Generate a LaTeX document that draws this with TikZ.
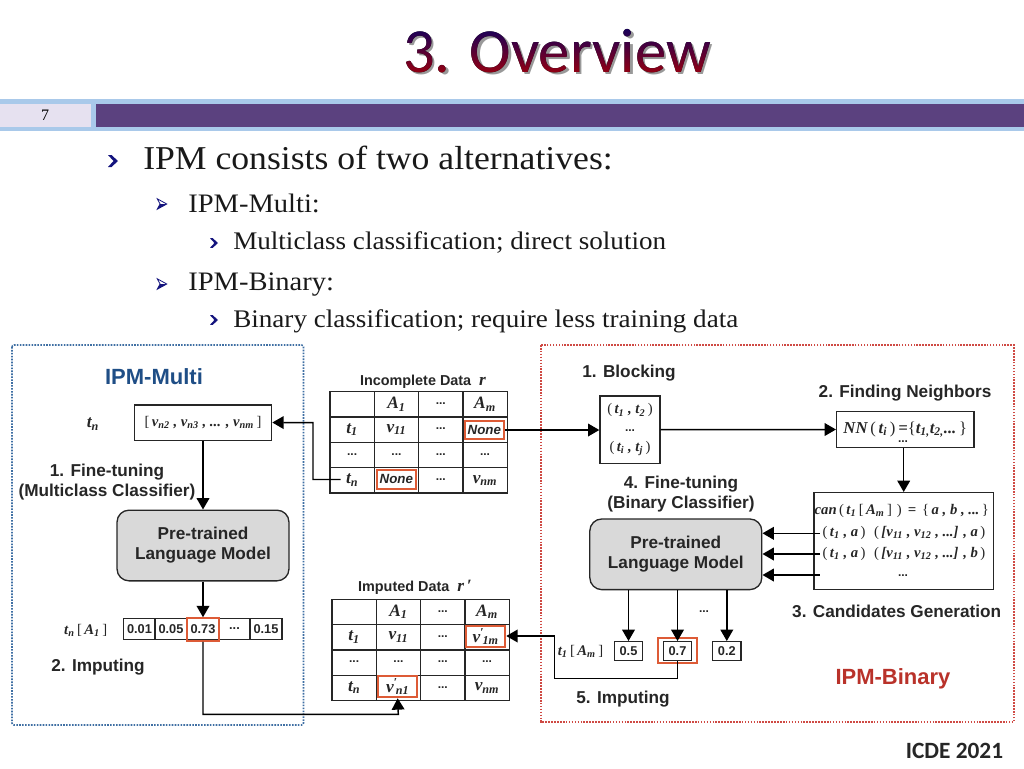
\documentclass[tikz,border=0pt]{standalone}
\usepackage{fontspec}
\setmainfont{Liberation Serif}
\setsansfont{Liberation Sans}
\newfontfamily\slidefont{Carlito}
\newfontfamily\bodyfont[FakeStretch=1.07]{Liberation Serif}
\usetikzlibrary{arrows.meta,fadings,shadings}

\definecolor{bandblue}{HTML}{A9C9EA}
\definecolor{bandpurple}{HTML}{5B417F}
\definecolor{pagelilac}{HTML}{E6E1F0}
\definecolor{bulletblue}{HTML}{14147E}
\definecolor{multiblue}{HTML}{1F4E86}
\definecolor{framedot}{HTML}{3F6FA3}
\definecolor{binaryred}{HTML}{B9322A}
\definecolor{framered}{HTML}{CF4A44}
\definecolor{markred}{HTML}{DD5B36}
\definecolor{modelgray}{HTML}{D9D9D9}
\definecolor{inkgray}{HTML}{262626}

\newcommand{\labfont}{\fontsize{12.9pt}{15pt}\selectfont\sffamily\bfseries}
\newcommand{\symfont}{\fontsize{13pt}{15pt}\selectfont\rmfamily\bfseries\itshape}
\newcommand{\symsmall}{\fontsize{11pt}{13pt}\selectfont\rmfamily\bfseries\itshape}
\newcommand{\thin}[1]{{\mdseries\upshape\,#1\,}}
\newcommand{\low}[1]{\textsubscript{#1}}
\newcommand{\vprime}[1]{v\textsuperscript{\upshape\char"2032}\kern-1.5pt\textsubscript{#1}}
\newcommand{\cdotsmark}{\raisebox{1pt}{\fontsize{9pt}{9pt}\selectfont\sffamily\bfseries\upshape ...}}
\newcommand{\threedots}{...}

\tikzset{
  lab/.style={font=\labfont, text=inkgray, align=center, inner sep=0pt},
  sym/.style={font=\symfont, text=inkgray, align=center, inner sep=0pt},
  smallsym/.style={sym, font=\symsmall},
  cell/.style={draw=inkgray, line width=1pt, minimum width=33.2pt, minimum height=19pt, inner sep=0pt, font=\symfont, text=inkgray},
  plainbox/.style={draw=inkgray, line width=1pt, inner sep=0pt, font=\symfont, text=inkgray, align=center},
  probbox/.style={plainbox, font=\fontsize{9.6pt}{12pt}\selectfont\sffamily\bfseries, minimum width=21.3pt, minimum height=14pt},
  markbox/.style={draw=markred, line width=1.4pt, inner sep=0pt},
  nonebox/.style={markbox, minimum width=29.5pt, minimum height=14pt, fill=white, text=inkgray, font=\fontsize{10pt}{12pt}\selectfont\sffamily\bfseries\itshape},
  primebox/.style={markbox, minimum width=29.5pt, minimum height=16pt, fill=white, text=inkgray, font=\symfont},
  model/.style={draw=inkgray, line width=1pt, fill=modelgray, rounded corners=9pt, font=\labfont, text=inkgray, align=center,
    minimum width=129pt, minimum height=53pt},
  link/.style={draw=black, line width=1.1pt},
  arrow/.style={link, -{Triangle[length=8.5pt,width=9.5pt]}},
  mainline/.style={anchor=base west, inner sep=0pt, font=\fontsize{25pt}{30pt}\selectfont\bodyfont, text=black!90},
  subline/.style={anchor=base west, inner sep=0pt, font=\fontsize{20pt}{25pt}\selectfont\bodyfont, text=black!90},
  leafline/.style={anchor=base west, inner sep=0pt, font=\fontsize{19pt}{22pt}\selectfont\bodyfont, text=black!90},
  solidchevron/.pic={\fill[bulletblue] (-5,-6) -- (-1.5,-6) -- (5,0) -- (-1.5,6) -- (-5,6) -- (0.5,0) -- cycle;},
  openchevron/.pic={\draw[bulletblue, line width=0.6pt, fill=white] (-5,-5.5) -- (5,0) -- (-5,5.5) -- (-2,0) -- cycle;
     \fill[bulletblue] (-5,5.5) -- (5,0) -- (-2,0) -- cycle;},
}

\begin{tikzfadingfrompicture}[name=titlefade]
  \node[text=transparent!0, font=\fontsize{47pt}{50pt}\selectfont\slidefont] {3. Overview};
\end{tikzfadingfrompicture}

\begin{document}
\begin{tikzpicture}[x=0.75pt,y=-0.75pt]
   \useasboundingbox (0,0) rectangle (1024,768);

   % slide head
   \node[text=black!40, font=\fontsize{47pt}{50pt}\selectfont\slidefont] (titleshadow) at (559.5,53.5) {3. Overview};
   \fill[top color=black!10!blue!45!black, bottom color=red!70!black, path fading=titlefade, fit fading=false,
         fading transform={shift={(557,51.5)}}] (395,20) rectangle (720,84);
   \fill[bandblue] (0,99) rectangle (1024,131);
   \fill[bandpurple] (96,104) rectangle (1024,127);
   \fill[pagelilac] (0,104) rectangle (91,127);
   \node[font=\fontsize{12pt}{14pt}\selectfont] (pagenumber) at (45,115.5) {7};

   % bullets
   \pic at (113,161) {solidchevron};
   \pic[scale=0.95] at (162,204) {openchevron};
   \pic[scale=0.8] at (214,243) {solidchevron};
   \pic[scale=0.95] at (162,284) {openchevron};
   \pic[scale=0.8] at (214,320) {solidchevron};
   \node[mainline] (itemmain) at (143,169) {IPM consists of two alternatives:};
   \node[subline] (itemmulti) at (188,212) {IPM-Multi:};
   \node[leafline] (itemmulticlass) at (233,249) {Multiclass classification; direct solution};
   \node[subline] (itembinary) at (188,290) {IPM-Binary:};
   \node[leafline] (itembinaryclass) at (233,327) {Binary classification; require less training data};
   \node[font=\fontsize{17.5pt}{20pt}\selectfont\slidefont\bfseries, text=black!85] (venue) at (954.5,751) {ICDE 2021};

   % dotted frames
   \draw[framedot, line width=1.2pt, densely dotted, rounded corners=1.5pt] (12,345) rectangle (303.5,725);
   \draw[framered, line width=1.2pt, densely dotted] (541,345) rectangle (1014,722);

   % IPM-Multi
   \node[font=\fontsize{16.5pt}{18pt}\selectfont\sffamily\bfseries, text=multiblue] (multititle) at (154,377) {IPM-Multi};
   \node[sym] (tnlabel) at (93,424) {t\low{n}};
   \node[plainbox, minimum width=103pt, minimum height=26.5pt, font=\symsmall] (vector) at (203,422.5)
      {\thin{[}v\low{n2} , v\low{n3} , ... , v\low{nm}\thin{]}};
   \node[lab] (finetune) at (107,482.5) {1. Fine-tuning\\(Multiclass Classifier)};
   \node[model] (lmmulti) at (203,545.5) {Pre-trained\\Language Model};
   \node[smallsym] (tnattr) at (87,630) {t\low{n}\thin{[}A\low{1}\thin{]}};
   \foreach \name/\x/\val in {pa/139.5/0.01, pb/171/0.05, pc/203/0.73, pd/234.5/\threedots, pe/266/0.15}
      \node[probbox, minimum width=23.8pt, minimum height=16.2pt] (\name) at (\x,629) {\val};
   \node[markbox, minimum width=24pt, minimum height=17pt] (pcmark) at (203,629.5) {};
   \node[lab] (imputea) at (98,667) {2. Imputing};

   % data tables
   \node[lab, font=\fontsize{10.8pt}{12pt}\selectfont\sffamily\bfseries] (inctitle) at (423,381.5) {Incomplete Data \ {\symfont r}};
   \node[lab, font=\fontsize{10.8pt}{12pt}\selectfont\sffamily\bfseries] (imptitle) at (415,587.5) {Imputed Data \ {\symfont r\,\char"2032}};
   \foreach \tab/\ox/\oy in {inc/330/391.7, imp/332/599.3}
      \foreach \c/\r/\txt in {1/1/{}, 2/1/{A\low{1}}, 3/1/{\cdotsmark}, 4/1/{A\low{m}},
                              1/2/{t\low{1}}, 2/2/{v\low{11}}, 3/2/{\cdotsmark}, 4/2/{},
                              1/3/{\cdotsmark}, 2/3/{\cdotsmark}, 3/3/{\cdotsmark}, 4/3/{\cdotsmark},
                              1/4/{t\low{n}}, 2/4/{}, 3/4/{\cdotsmark}, 4/4/{v\low{nm}}}
         \node[cell] (\tab-\c-\r) at (\ox+44.3*\c-22.15, \oy+25.3*\r-12.65) {\txt};
   \node[nonebox] (incnonea) at (484.3,430) {None};
   \node[nonebox] (incnoneb) at (396.3,479.3) {None};
   \node[primebox] (impone) at (485.7,636.7) {\vprime{1m}};
   \node[primebox] (impn) at (397.7,686.7) {\vprime{n1}};
   \coordinate (tnstart) at (340.5,479.5);

   % IPM-Binary
   \node[lab] (blocktitle) at (629,373.5) {1. Blocking};
   \node[plainbox, minimum width=45pt, minimum height=50.5pt, font=\symsmall] (blocking) at (630,429.7)
      {\thin{(}t\low{1} , t\low{2}\thin{)}\\[1pt]{\cdotsmark}\\[1pt]\thin{(}t\low{i} , t\low{j}\thin{)}};
   \node[lab] (neightitle) at (905,393.5) {2. Finding Neighbors};
   \node[plainbox, minimum width=103pt, minimum height=26.7pt, font=\fontsize{12.5pt}{15pt}\selectfont\rmfamily\bfseries\itshape] (neighbors) at (905.3,429.5)
      {NN\thin{(}t\low{i}\thin{)}={\mdseries\upshape\{}t\low{1,}t\low{2,}...{\mdseries\upshape\,\}}};
   \node[sym] (neighdots) at (903,442.5) {\cdotsmark};
   \node[plainbox, minimum width=134.5pt, minimum height=72.5pt] (candidates) at (903.7,541) {};
   \node[smallsym] (canline) at (903,510.5) {can\thin{(}t\low{1}\thin{[}A\low{m}\thin{]}\thin{)} = \thin{\{}a , b , ...\thin{\}}};
   \node[smallsym] (canrowa) at (904,533) {\thin{(}t\low{1} , a\thin{)} \thin{(}[v\low{11} , v\low{12} , ...] , a\thin{)}};
   \node[smallsym] (canrowb) at (904,554) {\thin{(}t\low{1} , a\thin{)} \thin{(}[v\low{11} , v\low{12} , ...] , b\thin{)}};
   \node[sym] (canrowc) at (903,576) {\cdotsmark};
   \coordinate (canstarta) at (819.5,533.3);
   \coordinate (canstartb) at (819.5,554);
   \coordinate (canstartc) at (819.5,575);
   \node[lab] (candtitle) at (896.7,611.5) {3. Candidates Generation};
   \node[lab] (finetuneb) at (681,494) {4. Fine-tuning\\(Binary Classifier)};
   \node[model] (lmbinary) at (675.8,554.3) {Pre-trained\\Language Model};
   \node[smallsym] (tattr) at (581.7,651.7) {t\low{1}\thin{[}A\low{m}\thin{]}};
   \node[probbox] (outa) at (628.5,651) {0.5};
   \node[probbox] (outb) at (677.5,651) {0.7};
   \node[probbox] (outc) at (726.8,651) {0.2};
   \node[markbox, minimum width=29.2pt, minimum height=18.7pt] (outmark) at (677.5,650.8) {};
   \node[sym] (outdots) at (704,612.7) {\cdotsmark};
   \node[lab] (imputeb) at (623,699) {5. Imputing};
   \node[font=\fontsize{16.5pt}{18pt}\selectfont\sffamily\bfseries, text=binaryred] (binarytitle) at (893,678.5) {IPM-Binary};

   % connectors
   \draw[arrow] (tnstart) -- (313,479.5) -- (313,422.7) -- (vector.east);
   \draw[arrow] (vector.south) -- (lmmulti.north);
   \draw[arrow] (lmmulti.south) -- (pcmark.north);
   \draw[arrow] (pcmark.south) -- (203,714.3) -- (398.3,714.3) -- (impn.south);
   \draw[arrow] (incnonea.east) -- (blocking.west |- incnonea.east);
   \draw[arrow] (blocking.east) -- (neighbors.west);
   \draw[arrow] (neighbors.south -| candidates.north) -- (candidates.north);
   \draw[arrow] (canstarta) -- (lmbinary.east |- canstarta);
   \draw[arrow] (canstartb) -- (lmbinary.east |- canstartb);
   \draw[arrow] (canstartc) -- (lmbinary.east |- canstartc);
   \draw[arrow] (lmbinary.south -| outa.north) -- (outa.north);
   \draw[arrow] (lmbinary.south -| outb.north) -- (outb.north);
   \draw[arrow] (lmbinary.south -| outc.north) -- (outc.north);
   \draw[arrow] (outb.south) -- (677.5,678.3) -- (554.3,678.3) -- (554.3,636) -- (impone.east |- 0,636);
  \end{tikzpicture}
\end{document}
